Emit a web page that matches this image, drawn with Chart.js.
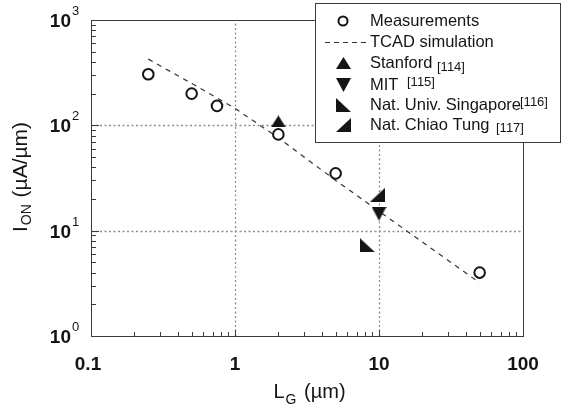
<!DOCTYPE html>
<html><head><meta charset="utf-8">
<script src="https://cdn.jsdelivr.net/npm/chart.js@4"></script>
<style>html,body{margin:0;padding:0;background:#fff;}#wrap{width:563px;height:410px;position:relative;}</style>
</head><body><div id="wrap"><canvas id="c" width="563" height="410"></canvas></div>
<script>
// ---- data ----
const measLG   = [0.25, 0.5, 0.75, 2, 5, 50];
const measION  = [305, 200, 153, 82, 35, 4.0];
const tcadLG   = [0.25, 0.5, 1, 2, 5, 10, 20, 50];
const tcadION  = [425, 250, 145, 76, 30, 15.3, 7.8, 3.2];
const stanfordLG = [2],   stanfordION = [109];
const mitLG      = [10],  mitION      = [14.5];
const nusLG      = [8.3], nusION      = [7.3];
const nctLG      = [9.8], nctION      = [22];
const xTickValues = [0.1, 1, 10, 100];
const xTickLabels = ['0.1', '1', '10', '100'];
const yTickValues = [1, 10, 100, 1000];
const yTickExps   = ['0', '1', '2', '3'];
const legendNames = ['Measurements', 'TCAD simulation', 'Stanford', 'MIT', 'Nat. Univ. Singapore', 'Nat. Chiao Tung'];
const legendRefs  = ['', '', '[114]', '[115]', '[116]', '[117]'];
const xTitleMain = 'L', xTitleSub = 'G', xTitleRest = ' (\u00b5m)';
const yTitleMain = 'I', yTitleSub = 'ON', yTitleRest = ' (\u00b5A/\u00b5m)';

const FONT = "'Liberation Sans', Arial, Helvetica, sans-serif";
const INK = '#141414';

function tri(kind, w, h) {
  const c = document.createElement('canvas');
  c.width = w; c.height = h;
  const g = c.getContext('2d');
  g.fillStyle = INK;
  g.beginPath();
  if (kind === 'up') { g.moveTo(w/2, 0); g.lineTo(w, h); g.lineTo(0, h); }
  else if (kind === 'down') { g.moveTo(0, 0); g.lineTo(w, 0); g.lineTo(w/2, h); }
  else if (kind === 'bl') { g.moveTo(0, 0); g.lineTo(0, h); g.lineTo(w, h); }
  else { g.moveTo(w, 0); g.lineTo(w, h); g.lineTo(0, h); }
  g.closePath(); g.fill();
  return c;
}
const triUp = tri('up', 15, 12), triDown = tri('down', 15, 14), triBL = tri('bl', 15, 14), triBR = tri('br', 15, 14);

const pts = (xs, ys) => xs.map((x, i) => ({x: x, y: ys[i]}));

const axesPlugin = {
  id: 'axesPlugin',
  beforeDatasetsDraw(chart) {
    const {ctx, chartArea: a, scales: {x, y}} = chart;
    ctx.save();
    // dotted grid
    ctx.strokeStyle = '#8e8e8e'; ctx.lineWidth = 1.3; ctx.setLineDash([2, 2.5]);
    [1, 10].forEach(v => { const px = Math.round(x.getPixelForValue(v)) + 0.5;
      ctx.beginPath(); ctx.moveTo(px, a.bottom); ctx.lineTo(px, a.top); ctx.stroke(); });
    [10, 100].forEach(v => { const py = Math.round(y.getPixelForValue(v)) + 0.5;
      ctx.beginPath(); ctx.moveTo(a.left, py); ctx.lineTo(a.right, py); ctx.stroke(); });
    ctx.setLineDash([]);
    // frame
    ctx.strokeStyle = '#3a3a3a'; ctx.lineWidth = 1;
    ctx.strokeRect(Math.round(a.left) + 0.5, Math.round(a.top) + 0.5, Math.round(a.right - a.left), Math.round(a.bottom - a.top));
    // ticks (inward)
    ctx.beginPath();
    for (let d = 0.1; d < 100; d *= 10) {
      for (let k = 1; k <= 10; k++) {
        const v = d * k; const px = Math.round(x.getPixelForValue(v)) + 0.5;
        const len = (k === 1 || k === 10) ? 6 : 4;
        ctx.moveTo(px, a.bottom); ctx.lineTo(px, a.bottom - len);
      }
    }
    for (let d = 1; d < 1000; d *= 10) {
      for (let k = 1; k <= 10; k++) {
        const v = d * k; const py = Math.round(y.getPixelForValue(v)) + 0.5;
        const len = (k === 1 || k === 10) ? 8 : 5;
        ctx.moveTo(a.left, py); ctx.lineTo(a.left + len, py);
      }
    }
    ctx.stroke();
    // tick labels
    ctx.fillStyle = INK;
    ctx.font = 'bold 19px ' + FONT; ctx.textAlign = 'center'; ctx.textBaseline = 'alphabetic';
    xTickValues.forEach((v, i) => ctx.fillText(xTickLabels[i], x.getPixelForValue(v) - (i === 0 ? 3 : 0), 370));
    yTickValues.forEach((v, i) => {
      const py = y.getPixelForValue(v);
      ctx.font = 'bold 19px ' + FONT; ctx.textAlign = 'right';
      ctx.fillText('10', 71, py + 7);
      ctx.font = '13px ' + FONT; ctx.textAlign = 'left';
      ctx.fillText(yTickExps[i], 72, py - 5);
    });
    // x title
    ctx.textAlign = 'left';
    ctx.font = '20px ' + FONT;
    const w1 = ctx.measureText(xTitleMain).width;
    ctx.font = '14px ' + FONT;
    const w2 = ctx.measureText(xTitleSub).width;
    ctx.font = '20px ' + FONT;
    const w3 = ctx.measureText(xTitleRest).width;
    let sx = (a.left + a.right) / 2 - (w1 + w2 + w3) / 2 + 1;
    ctx.fillText(xTitleMain, sx, 398);
    ctx.font = '14px ' + FONT; ctx.fillText(xTitleSub, sx + w1 + 1, 404);
    ctx.font = '20px ' + FONT; ctx.fillText(xTitleRest, sx + w1 + w2 + 3, 398);
    // y title
    ctx.save();
    ctx.translate(27, (a.top + a.bottom) / 2);
    ctx.rotate(-Math.PI / 2);
    ctx.font = '21px ' + FONT;
    const v1 = ctx.measureText(yTitleMain).width;
    ctx.font = '14px ' + FONT;
    const v2 = ctx.measureText(yTitleSub).width;
    ctx.font = '21px ' + FONT;
    const v3 = ctx.measureText(yTitleRest).width;
    let sy = -(v1 + v2 + v3) / 2;
    ctx.fillText(yTitleMain, sy, 0);
    ctx.font = '14px ' + FONT; ctx.fillText(yTitleSub, sy + v1 + 1, 4);
    ctx.font = '21px ' + FONT; ctx.fillText(yTitleRest, sy + v1 + v2 + 2, 0);
    ctx.restore();
    ctx.restore();
  }
};

const legendPlugin = {
  id: 'legendPlugin',
  afterDraw(chart) {
    const ctx = chart.ctx;
    ctx.save();
    const bx = 315, by = 3, bw = 245, bh = 139;
    ctx.fillStyle = '#fff'; ctx.fillRect(bx, by, bw, bh);
    ctx.strokeStyle = '#3a3a3a'; ctx.lineWidth = 1;
    ctx.strokeRect(bx + 0.5, by + 0.5, bw, bh);
    const mx = 343, tx = 370;
    const rows = [21, 42, 63, 85, 105, 125];
    // markers
    ctx.strokeStyle = INK; ctx.lineWidth = 2;
    ctx.beginPath(); ctx.arc(mx, rows[0], 4.5, 0, Math.PI * 2); ctx.stroke();
    ctx.lineWidth = 1; ctx.strokeStyle = '#333'; ctx.setLineDash([5, 4]);
    ctx.beginPath(); ctx.moveTo(325, rows[1] + 0.5); ctx.lineTo(369, rows[1] + 0.5); ctx.stroke();
    ctx.setLineDash([]);
    [triUp, triDown, triBL, triBR].forEach((im, i) => {
      ctx.drawImage(im, Math.round(mx - im.width / 2), Math.round(rows[i + 2] - im.height / 2));
    });
    // text
    ctx.fillStyle = INK; ctx.textAlign = 'left'; ctx.textBaseline = 'middle';
    ctx.font = '16.5px ' + FONT;
    legendNames.forEach((n, i) => ctx.fillText(n, tx, rows[i]));
    ctx.font = '13px ' + FONT;
    const refX = [0, 0, 437, 407, 520, 496];
    const refDy = [0, 0, 4, -3, -3, 3];
    legendRefs.forEach((r, i) => { if (r) ctx.fillText(r, refX[i], rows[i] + refDy[i]); });
    ctx.restore();
  }
};

new Chart(document.getElementById('c'), {
  type: 'scatter',
  data: {
    datasets: [
      { label: 'TCAD simulation', data: pts(tcadLG, tcadION), showLine: true, borderColor: '#333', borderWidth: 1.2,
        borderDash: [5, 5], pointRadius: 0, fill: false, order: 5 },
      { label: 'Measurements', data: pts(measLG, measION), pointStyle: 'circle', pointRadius: 5.3, borderWidth: 2,
        borderColor: INK, backgroundColor: '#fff', order: 4 },
      { label: 'Stanford', data: pts(stanfordLG, stanfordION), pointStyle: triUp, pointRadius: 7, order: 3 },
      { label: 'MIT', data: pts(mitLG, mitION), pointStyle: triDown, pointRadius: 7, order: 2 },
      { label: 'Nat. Univ. Singapore', data: pts(nusLG, nusION), pointStyle: triBL, pointRadius: 7, order: 1 },
      { label: 'Nat. Chiao Tung', data: pts(nctLG, nctION), pointStyle: triBR, pointRadius: 7, order: 0 }
    ]
  },
  options: {
    responsive: false, animation: false, devicePixelRatio: 1,
    layout: { padding: { left: 91, right: 40, top: 20, bottom: 74 } },
    plugins: { legend: { display: false }, tooltip: { enabled: false } },
    events: [],
    scales: {
      x: { type: 'logarithmic', min: 0.1, max: 100, display: false },
      y: { type: 'logarithmic', min: 1, max: 1000, display: false }
    }
  },
  plugins: [axesPlugin, legendPlugin]
});
</script></body></html>
